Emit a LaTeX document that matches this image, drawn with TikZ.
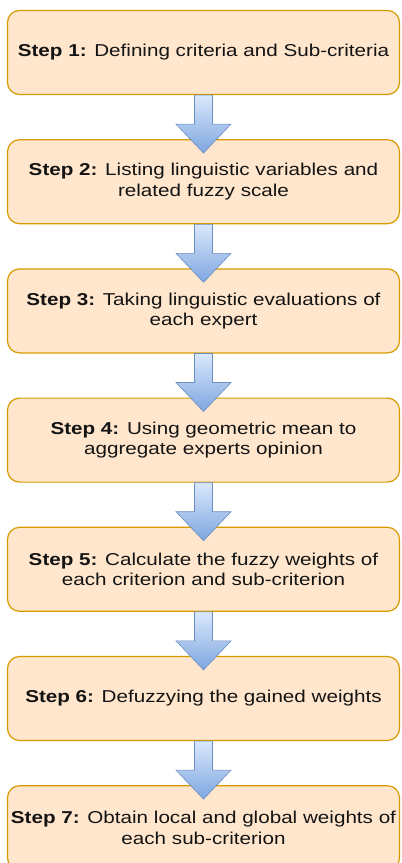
\documentclass[tikz,border=0pt]{standalone}
\usepackage{fontspec}
\usepackage{xcolor}
\usepackage{tikz}
\usetikzlibrary{positioning, calc}
\newfontfamily\stepfont{Liberation Sans}[FakeStretch=1.2]
\definecolor{peach}{RGB}{255,230,204}
\definecolor{amber}{RGB}{215,155,0}
\definecolor{paleblue}{RGB}{218,232,252}
\definecolor{midblue}{RGB}{126,166,224}
\definecolor{edgeblue}{RGB}{108,142,191}
\definecolor{ink}{RGB}{20,20,20}

% hollow block arrow between two steps
\newcommand{\flowarrow}[2]{%
  \shade[flow] let \p1=(#1.south), \p2=(#2.north) in
    (\x1-9pt,\y1) -- (\x1+9pt,\y1) -- (\x1+9pt,\y2+15pt) -- (\x1+27.5pt,\y2+15pt)
    -- (\x1,\y2-14pt) -- (\x1-27.5pt,\y2+15pt) -- (\x1-9pt,\y2+15pt) -- cycle;}

\begin{document}
\begin{tikzpicture}[
        node distance=44pt,
        block/.style={rectangle, draw=amber, line width=1.2pt, rounded corners=12pt, fill=peach,
            minimum width=392pt, minimum height=84pt, align=center, text=ink,
            font=\stepfont\fontsize{17.2}{20.5}\selectfont},
        flow/.style={draw=edgeblue, line width=0.6pt, top color=paleblue, bottom color=midblue}
    ]
        \useasboundingbox (-203.5pt,52.5pt) rectangle (198.5pt,-810.5pt);

        \node[block] (s1) {\textbf{Step 1:} Defining criteria and Sub-criteria};
        \node[block, below=of s1] (s2) {\textbf{Step 2:} Listing linguistic variables and\\related fuzzy scale};
        \node[block, below=of s2] (s3) {\textbf{Step 3:} Taking linguistic evaluations of\\each expert};
        \node[block, below=of s3] (s4) {\textbf{Step 4:} Using geometric mean to\\aggregate experts opinion};
        \node[block, below=of s4] (s5) {\textbf{Step 5:} Calculate the fuzzy weights of\\each criterion and sub-criterion};
        \node[block, below=of s5] (s6) {\textbf{Step 6:} Defuzzying the gained weights};
        \node[block, below=of s6] (s7) {\textbf{Step 7:} Obtain local and global weights of\\each sub-criterion};

        \flowarrow{s1}{s2}
        \flowarrow{s2}{s3}
        \flowarrow{s3}{s4}
        \flowarrow{s4}{s5}
        \flowarrow{s5}{s6}
        \flowarrow{s6}{s7}
    \end{tikzpicture}
\end{document}
